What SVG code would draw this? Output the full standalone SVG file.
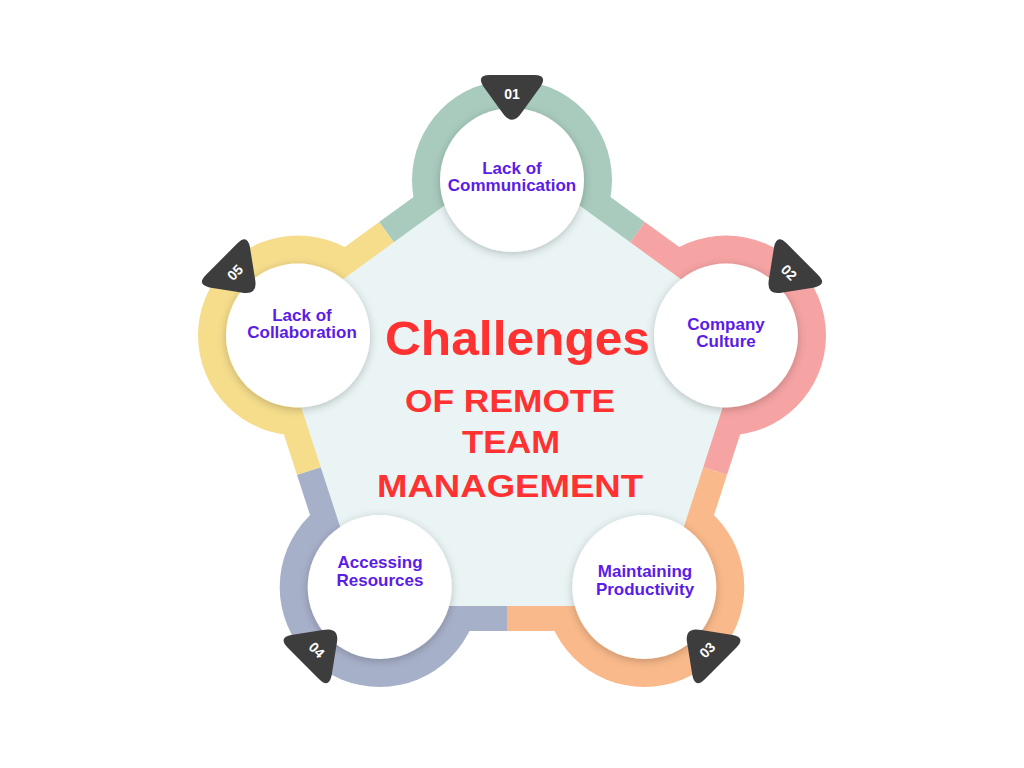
<svg xmlns="http://www.w3.org/2000/svg" width="1024" height="768" viewBox="0 0 1024 768">
<defs>
<filter id="sh" x="-30%" y="-30%" width="160%" height="160%">
<feDropShadow dx="0" dy="2" stdDeviation="4" flood-color="#000" flood-opacity="0.22"/>
</filter>
<path id="tri" d="M-22,-22 L22,-22 Q36,-22 28.6,-10.6 L9.8,15.4 Q0,30 -9.8,15.4 L-28.6,-10.6 Q-36,-22 -22,-22 Z"/>
<style>
.band{fill:none;stroke-width:25;stroke-linejoin:miter;stroke-linecap:butt}
.white{fill:#ffffff;filter:url(#sh)}
.badge{fill:#3d3d3d}
.num{font-family:"Liberation Sans",Arial,sans-serif;font-weight:bold;font-size:14px;fill:#ffffff;text-anchor:middle}
.lbl{font-family:"Liberation Sans",Arial,sans-serif;font-weight:bold;font-size:17px;fill:#5b1de6;text-anchor:middle}
.title{font-family:"Liberation Sans",Arial,sans-serif;font-weight:bold;fill:#ff3131;text-anchor:middle}
</style>
</defs>
<rect width="1024" height="768" fill="#ffffff"/>

<g id="rings">
<circle cx="512" cy="180" r="100" fill="#a8cbbd"/>
<circle cx="726" cy="335.5" r="100" fill="#f5a3a3"/>
<circle cx="644.3" cy="587" r="100" fill="#f9b98a"/>
<circle cx="379.7" cy="587" r="100" fill="#a7b0c9"/>
<circle cx="298" cy="335.5" r="100" fill="#f6dd8c"/>
</g>

<g id="connectors">
<polygon points="512,141 763.1,323.4 667.2,618.6 356.8,618.6 260.9,323.4" fill="#eaf4f4"/>
<path class="band" stroke="#a8cbbd" d="M386.45,232.2 L512,141 L637.55,232.2"/>
<path class="band" stroke="#f5a3a3" d="M637.55,232.2 L763.1,323.4 L715.15,471"/>
<path class="band" stroke="#f9b98a" d="M715.15,471 L667.2,618.6 L507,618.6"/>
<path class="band" stroke="#a7b0c9" d="M507,618.6 L356.8,618.6 L308.85,471"/>
<path class="band" stroke="#f6dd8c" d="M308.85,471 L260.9,323.4 L386.45,232.2"/>
</g>

<g id="title">
<text class="title" x="517.5" y="355" font-size="48" textLength="265" lengthAdjust="spacingAndGlyphs">Challenges</text>
<text class="title" x="510" y="412" font-size="32" textLength="210" lengthAdjust="spacingAndGlyphs">OF REMOTE</text>
<text class="title" x="511" y="453" font-size="32" textLength="98" lengthAdjust="spacingAndGlyphs">TEAM</text>
<text class="title" x="510" y="497" font-size="32" textLength="266" lengthAdjust="spacingAndGlyphs">MANAGEMENT</text>
</g>

<g id="node1">
<circle class="white" cx="512" cy="180" r="72"/>
<g transform="translate(512,97)">
<use href="#tri" class="badge"/>
<text class="num" x="0" y="2">01</text>
</g>
<text class="lbl" x="512" y="174">Lack of</text>
<text class="lbl" x="512" y="191">Communication</text>
</g>

<g id="node2">
<circle class="white" cx="726" cy="335.5" r="72"/>
<g transform="translate(726,335.5) rotate(45) translate(0,-86)">
<use href="#tri" class="badge"/>
<text class="num" x="0" y="2">02</text>
</g>
<text class="lbl" x="726" y="330">Company</text>
<text class="lbl" x="726" y="347">Culture</text>
</g>

<g id="node3">
<circle class="white" cx="644.3" cy="587" r="72"/>
<g transform="translate(644.3,587) rotate(135) translate(0,-86)">
<use href="#tri" class="badge"/>
<text class="num" x="0" y="2" transform="rotate(180 0 -3)">03</text>
</g>
<text class="lbl" x="645" y="577">Maintaining</text>
<text class="lbl" x="645" y="595">Productivity</text>
</g>

<g id="node4">
<circle class="white" cx="379.7" cy="587" r="72"/>
<g transform="translate(379.7,587) rotate(225) translate(0,-86)">
<use href="#tri" class="badge"/>
<text class="num" x="0" y="2" transform="rotate(180 0 -3)">04</text>
</g>
<text class="lbl" x="380" y="568">Accessing</text>
<text class="lbl" x="380" y="586">Resources</text>
</g>

<g id="node5">
<circle class="white" cx="298" cy="335.5" r="72"/>
<g transform="translate(298,335.5) rotate(315) translate(0,-86)">
<use href="#tri" class="badge"/>
<text class="num" x="0" y="2">05</text>
</g>
<text class="lbl" x="302" y="321">Lack of</text>
<text class="lbl" x="302" y="338">Collaboration</text>
</g>
</svg>
